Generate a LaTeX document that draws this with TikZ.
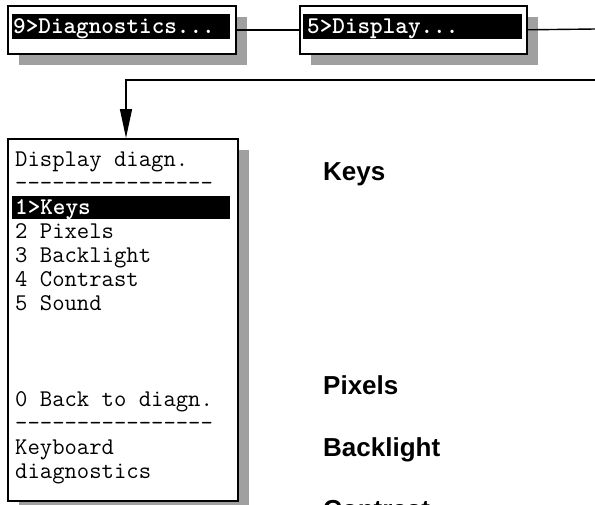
\documentclass[tikz,border=0pt]{standalone}
\usepackage{fontspec}
\setmainfont{Liberation Sans}
\usetikzlibrary{arrows.meta,shadows}
\definecolor{shade}{RGB}{160,160,160}
\begin{document}
\begin{tikzpicture}[x=1pt,y=-1pt,
  frame/.style={draw=black, line width=1.6pt, fill=white, inner sep=0pt, anchor=north west,
    drop shadow={shadow xshift=11pt, shadow yshift=-11pt, fill=shade, opacity=1}},
  bar/.style={fill=black, inner sep=0pt, anchor=north west},
  bartext/.style={text=white, font=\ttfamily\bfseries\fontsize{24}{24}\selectfont, anchor=base west, inner sep=0pt},
  menutext/.style={font=\ttfamily\fontsize{24}{24}\selectfont, anchor=base west, inner sep=0pt},
  itemlabel/.style={font=\bfseries\fontsize{26}{30}\selectfont, anchor=base west, inner sep=0pt},
  conn/.style={line width=1.4pt}
]
\useasboundingbox (0,0) rectangle (595,504);

% top menu boxes
\node[frame, minimum width=228pt, minimum height=48pt] (d1) at (7,5) {};
\node[bar, minimum width=218pt, minimum height=25pt] (d1bar) at (12,14) {};
\node[bartext] (d1t) at (13,33) {9>Diagnostics...};

\node[frame, minimum width=227pt, minimum height=48pt] (d2) at (299,5) {};
\node[bar, minimum width=219pt, minimum height=25pt] (d2bar) at (303,14) {};
\node[bartext] (d2t) at (307,33) {5>Display...};

% display diagnostics screen
\node[frame, minimum width=230pt, minimum height=362pt] (d3) at (7,138) {};
\node[bar, minimum width=218pt, minimum height=23pt] (d3bar) at (12,196) {};
\node[menutext] (m1) at (15,166) {Display diagn.};
\node[menutext] (m2) at (15,190) {----------------};
\node[bartext] (m3) at (15,214) {1>Keys};
\node[menutext] (m4) at (15,238) {2 Pixels};
\node[menutext] (m5) at (15,262) {3 Backlight};
\node[menutext] (m6) at (15,286) {4 Contrast};
\node[menutext] (m7) at (15,310) {5 Sound};
\node[menutext] (m11) at (15,406) {0 Back to diagn.};
\node[menutext] (m12) at (15,430) {----------------};
\node[menutext] (m13) at (15,454) {Keyboard};
\node[menutext] (m14) at (15,478) {diagnostics};

% connectors
\coordinate (out1) at (595,29);
\coordinate (in1) at (595,80);
\coordinate (bend) at (126,80);
\draw[conn] (d1.east) -- (d2.west);
\draw[conn] (d2.east) -- (out1);
\draw[conn, -{Triangle[width=12pt,length=29pt]}] (in1) -- (bend) -- (bend |- d3.north);

% right labels
\node[itemlabel] (lk) at (323,180) {Keys};
\node[itemlabel] (lp) at (323,394) {Pixels};
\node[itemlabel] (lb) at (323,456) {Backlight};
\node[itemlabel] (lc) at (323,518) {Contrast};
\end{tikzpicture}
\end{document}
